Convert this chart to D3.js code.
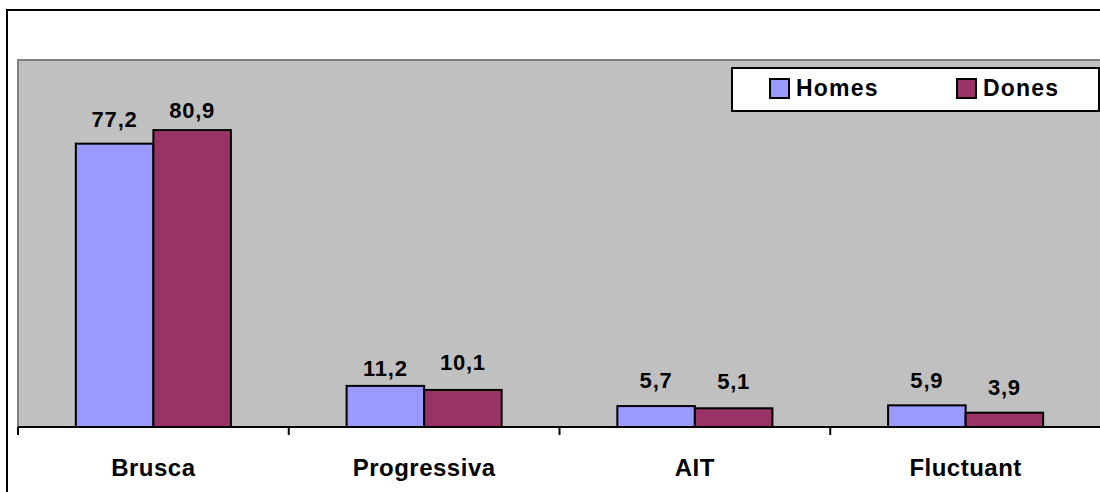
<!DOCTYPE html>
<html>
<head>
<meta charset="utf-8">
<script src="https://cdn.jsdelivr.net/npm/d3@7"></script>
<style>
  html, body { margin: 0; padding: 0; background: #fff; }
  svg { display: block; font-family: "Liberation Sans", Arial, sans-serif; }
</style>
</head>
<body>
<svg id="chart" width="1100" height="492"></svg>
<script>
// Tipus d'instauració per sexe (%)
const categories = ["Brusca", "Progressiva", "AIT", "Fluctuant"];
const seriesNames = ["Homes", "Dones"];
const homes = [77.2, 11.2, 5.7, 5.9];
const dones = [80.9, 10.1, 5.1, 3.9];
const seriesColors = ["#9999FF", "#993366"];
// small vertical shifts for individual value labels (px)
const labelNudge = [[1, 6], [8, -2], [0, -1], [1, 0]];

const values = [homes, dones];
const svg = d3.select("#chart");

const plot = { left: 18, top: 60, right: 1101, bottom: 427 };

const x = d3.scaleBand()
  .domain(categories)
  .range([plot.left, plot.right])
  .paddingInner(0)
  .paddingOuter(0);

const xs = d3.scaleBand()
  .domain(seriesNames)
  .range([0, x.bandwidth()])
  .paddingInner(0)
  .paddingOuter(0.746);

const y = d3.scaleLinear().domain([0, 100]).range([plot.bottom, plot.top]);

// outer frame
svg.append("rect")
  .attr("x", 7).attr("y", 10)
  .attr("width", 1200).attr("height", 600)
  .attr("fill", "#fff").attr("stroke", "#000").attr("stroke-width", 2);

// plot area
svg.append("rect")
  .attr("x", plot.left).attr("y", plot.top)
  .attr("width", plot.right - plot.left + 10).attr("height", plot.bottom - plot.top)
  .attr("fill", "#C0C0C0");
svg.append("path")
  .attr("d", `M${plot.left},${plot.bottom}V${plot.top}H${plot.right + 10}`)
  .attr("fill", "none").attr("stroke", "#808080").attr("stroke-width", 2);

// bars
const rows = categories.map((c, i) => ({ c, i }));
seriesNames.forEach((s, si) => {
  svg.append("g").selectAll("rect")
    .data(rows)
    .join("rect")
    .attr("x", d => x(d.c) + xs(s))
    .attr("y", d => y(values[si][d.i]))
    .attr("width", xs.bandwidth())
    .attr("height", d => y(0) - y(values[si][d.i]))
    .attr("fill", seriesColors[si])
    .attr("stroke", "#000")
    .attr("stroke-width", 2);
});

// value labels
const fmt = v => v.toFixed(1).replace(".", ",");
seriesNames.forEach((s, si) => {
  svg.append("g").selectAll("text")
    .data(rows)
    .join("text")
    .attr("x", d => x(d.c) + xs(s) + xs.bandwidth() / 2)
    .attr("y", d => y(values[si][d.i]) - 18 + labelNudge[d.i][si])
    .attr("text-anchor", "middle")
    .attr("font-size", 22)
    .attr("font-weight", "bold")
    .attr("letter-spacing", 0.8)
    .attr("fill", "#000")
    .text(d => fmt(values[si][d.i]));
});

// category axis
const axis = svg.append("g");
axis.append("line")
  .attr("x1", plot.left).attr("x2", plot.right + 10)
  .attr("y1", plot.bottom).attr("y2", plot.bottom)
  .attr("stroke", "#000").attr("stroke-width", 2);
const bounds = categories.map(c => x(c)).concat([x.range()[1]]);
axis.selectAll("line.tick")
  .data(bounds)
  .join("line")
  .attr("class", "tick")
  .attr("x1", d => d).attr("x2", d => d)
  .attr("y1", plot.bottom).attr("y2", plot.bottom + 8)
  .attr("stroke", "#000").attr("stroke-width", 2);
axis.selectAll("text")
  .data(categories)
  .join("text")
  .attr("x", d => x(d) + x.bandwidth() / 2)
  .attr("y", 476)
  .attr("text-anchor", "middle")
  .attr("font-size", 24)
  .attr("font-weight", "bold")
  .attr("letter-spacing", 0.5)
  .text(d => d);

// legend
const legend = svg.append("g");
legend.append("rect")
  .attr("x", 732).attr("y", 68).attr("width", 367).attr("height", 43)
  .attr("fill", "#fff").attr("stroke", "#000").attr("stroke-width", 2);
const legendX = [770, 957];
seriesNames.forEach((s, si) => {
  legend.append("rect")
    .attr("x", legendX[si]).attr("y", 79).attr("width", 19).attr("height", 19)
    .attr("fill", seriesColors[si]).attr("stroke", "#000").attr("stroke-width", 2);
  legend.append("text")
    .attr("x", legendX[si] + 26).attr("y", 96)
    .attr("font-size", 23)
    .attr("font-weight", "bold")
    .attr("letter-spacing", 1.2)
    .text(s);
});
</script>
</body>
</html>
